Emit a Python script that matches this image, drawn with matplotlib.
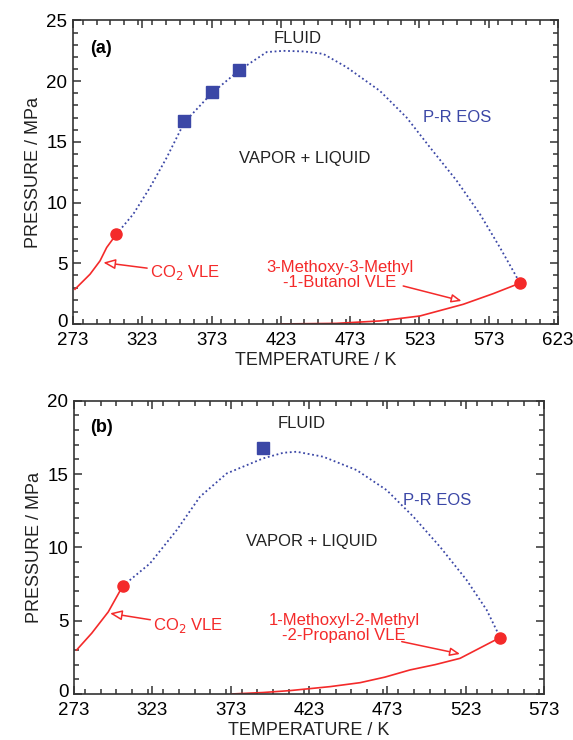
import numpy as np
import matplotlib.pyplot as plt
import matplotlib.transforms as mtransforms
from matplotlib.ticker import MultipleLocator

plt.rcParams['font.family'] = ['Liberation Sans', 'DejaVu Sans']

blue = '#3b47a6'
red = '#f42a2a'

# panel (a) : CO2 + 3-Methoxy-3-Methyl-1-Butanol
a_eos_T = [304.2, 316.5, 328.6, 340.6, 353.3, 373, 393, 412.8, 424.8, 440, 453.6,
           470.5, 494.5, 513.8, 530.6, 549.9, 566.7, 581.1, 592, 595.5]
a_eos_P = [7.38, 9.05, 11.25, 13.7, 16.6, 19.0, 20.9, 22.4, 22.5, 22.45, 22.25,
           21.15, 19.2, 17.0, 14.55, 11.8, 9.05, 6.3, 4.1, 3.36]
a_exp_T = [353.3, 373, 393]
a_exp_P = [16.7, 19.1, 20.9]
a_co2_T = [274.4, 285.3, 292.5, 297.3, 304.2]
a_co2_P = [2.86, 4.1, 5.2, 6.3, 7.38]
a_alc_T = [423, 463, 494.5, 523.4, 554.6, 576.3, 595.5]
a_alc_P = [0.0, 0.05, 0.25, 0.66, 1.62, 2.5, 3.36]
a_crit_T = [304.2, 595.5]
a_crit_P = [7.38, 3.36]

# panel (b) : CO2 + 1-Methoxyl-2-Methyl-2-Propanol
b_eos_T = [304.1, 321.5, 338.6, 353.4, 370.5, 393.8, 406.6, 415.1, 432.1, 453.4,
           472.6, 489.6, 506.6, 523.6, 536.4, 545.0]
b_eos_P = [7.36, 8.9, 11.18, 13.45, 15.04, 16.07, 16.45, 16.52, 16.18, 15.27,
           13.9, 12.09, 10.04, 7.77, 5.73, 3.85]
b_exp_T = [393.8]
b_exp_P = [16.75]
b_co2_T = [274.7, 284.3, 294.9, 304.1]
b_co2_P = [3.0, 4.14, 5.6, 7.36]
b_alc_T = [373.7, 393.8, 410.9, 436.4, 455.6, 471.5, 487.5, 503.5, 519.4, 545.0]
b_alc_P = [0.0, 0.1, 0.23, 0.5, 0.77, 1.15, 1.64, 2.0, 2.43, 3.85]
b_crit_T = [304.1, 545.0]
b_crit_P = [7.36, 3.85]

fig = plt.figure(figsize=(5.73, 7.40), dpi=100)
axa = fig.add_axes([0.1274, 0.5622, 0.8464, 0.4101])
axb = fig.add_axes([0.1291, 0.0622, 0.8203, 0.3963])

arrow = dict(arrowstyle='-|>,head_length=0.6,head_width=0.25', color=red,
             fc='white', lw=1.1, shrinkA=0, shrinkB=0)


def setup(ax, xmax, ymax):
    ax.set_xlim(273, xmax)
    ax.set_ylim(0, ymax)
    ax.set_xticks(np.arange(273, xmax + 1, 50))
    ax.set_yticks(np.arange(0, ymax + 1, 5))
    ax.xaxis.set_minor_locator(MultipleLocator(10))
    ax.yaxis.set_minor_locator(MultipleLocator(1))
    ax.tick_params(which='both', direction='in', top=True, right=True,
                   labelsize=13.5, color='#333333', width=1.1)
    ax.tick_params(which='major', length=6)
    ax.tick_params(axis='x', which='major', pad=6)
    ax.tick_params(axis='y', which='major', pad=4)
    ax.tick_params(which='minor', length=3.5)
    for s in ax.spines.values():
        s.set_linewidth(1.2)
        s.set_color('#333333')
    ax.set_xlabel('TEMPERATURE / K', fontsize=13, color='#222222', labelpad=2)
    ax.set_ylabel('PRESSURE / MPa', fontsize=13, color='#222222', labelpad=3)
    # lift the "0" a little so it clears the first temperature label
    lab = ax.get_yticklabels()[0]
    lab.set_transform(lab.get_transform() +
                      mtransforms.ScaledTranslation(0, 2.5 / 72, fig.dpi_scale_trans))


# (a)
axa.plot(a_eos_T, a_eos_P, ls=(0, (1, 1.5)), color=blue, lw=1.3)
axa.plot(a_co2_T, a_co2_P, color=red, lw=1.2)
axa.plot(a_alc_T, a_alc_P, color=red, lw=1.2)
axa.plot(a_exp_T, a_exp_P, 's', color=blue, ms=8)
axa.plot(a_crit_T, a_crit_P, 'o', color=red, ms=8, zorder=3)
setup(axa, 623, 25)
axa.text(285.3, 22.7, '(a)', fontsize=13, fontweight='bold', va='center')
axa.text(435.4, 23.5, 'FLUID', fontsize=12, ha='center', va='center', color='#222222')
axa.text(440.4, 13.6, 'VAPOR + LIQUID', fontsize=12, ha='center', va='center', color='#222222')
axa.text(550.5, 17.0, 'P-R EOS', fontsize=12, ha='center', va='center', color=blue)
axa.annotate('CO$_2$ VLE', xy=(294.9, 5.06), xytext=(328.5, 4.2), fontsize=12,
             color=red, va='center', ha='left', arrowprops=arrow)
axa.text(465.7, 4.04, '3-Methoxy-3-Methyl\n-1-Butanol VLE', fontsize=12,
         color=red, ha='center', va='center', linespacing=1.0)
axa.annotate('', xy=(553.4, 1.9), xytext=(511.3, 3.13), arrowprops=arrow)

# (b)
axb.plot(b_eos_T, b_eos_P, ls=(0, (1, 1.5)), color=blue, lw=1.3)
axb.plot(b_co2_T, b_co2_P, color=red, lw=1.2)
axb.plot(b_alc_T, b_alc_P, color=red, lw=1.2)
axb.plot(b_exp_T, b_exp_P, 's', color=blue, ms=8)
axb.plot(b_crit_T, b_crit_P, 'o', color=red, ms=8, zorder=3)
setup(axb, 573, 20)
axb.text(283.2, 18.2, '(b)', fontsize=13, fontweight='bold', va='center')
axb.text(418.6, 18.45, 'FLUID', fontsize=12, ha='center', va='center', color='#222222')
axb.text(424.7, 10.4, 'VAPOR + LIQUID', fontsize=12, ha='center', va='center', color='#222222')
axb.text(504.7, 13.2, 'P-R EOS', fontsize=12, ha='center', va='center', color=blue)
axb.annotate('CO$_2$ VLE', xy=(296, 5.5), xytext=(323.5, 4.65), fontsize=12,
             color=red, va='center', ha='left', arrowprops=arrow)
axb.text(445.4, 4.53, '1-Methoxyl-2-Methyl\n-2-Propanol VLE', fontsize=12,
         color=red, ha='center', va='center', linespacing=1.0)
axb.annotate('', xy=(519.4, 2.73), xytext=(482.2, 3.57), arrowprops=arrow)

fig.savefig('out.png', dpi=100)
